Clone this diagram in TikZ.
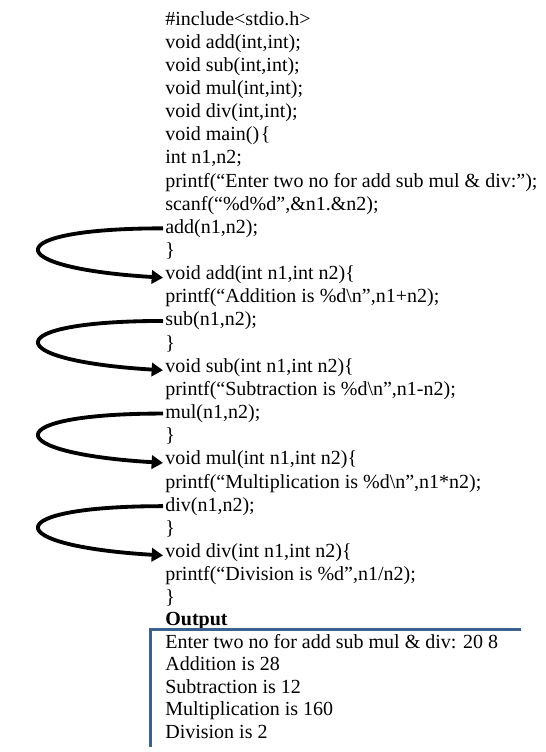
\documentclass[tikz,border=0pt]{standalone}
\usepackage{fontspec}
\setmainfont{Liberation Serif}
\usepackage{tikz}
\usetikzlibrary{calc,arrows.meta}
\definecolor{OutputLine}{RGB}{62,96,145}

\begin{document}
\begin{tikzpicture}[x=0.6pt, y=-0.6pt]
			\useasboundingbox (0,0) rectangle (546,752);
			\tikzstyle{every node}=[anchor=base west, inner sep=0pt, font=\fontsize{12pt}{14pt}\selectfont];
			\tikzstyle{call}=[line width=2.3pt, -{Triangle[length=6.8pt, width=8pt]}];
			\node (l1) at (165, 25.0) {\#include<stdio.h>};
			\node (l2) at (165, 48.15) {void add(int,int);};
			\node (l3) at (165, 71.3) {void sub(int,int);};
			\node (l4) at (165, 94.45) {void mul(int,int);};
			\node (l5) at (165, 117.6) {void div(int,int);};
			\node (l6) at (165, 140.75) {void main()\kern1pt\{};
			\node (l7) at (165, 163.9) {int n1,n2;};
			\node (l8) at (165, 187.05) {printf(“Enter two no for add sub mul \& div:”);};
			\node (l9) at (165, 210.2) {scanf(“\%d\%d”,\&n1.\&n2);};
			\node (l10) at (165, 233.35) {add(n1,n2);};
			\node (l11) at (165, 256.5) {\}};
			\node (l12) at (165, 279.65) {void add(int n1,int n2)\{};
			\node (l13) at (165, 302.8) {printf(“Addition is \%d\textbackslash n”,n1+n2);};
			\node (l14) at (165, 325.95) {sub(n1,n2);};
			\node (l15) at (165, 349.1) {\}};
			\node (l16) at (165, 372.25) {void sub(int n1,int n2)\{};
			\node (l17) at (165, 395.4) {printf(“Subtraction is \%d\textbackslash n”,n1-n2);};
			\node (l18) at (165, 418.55) {mul(n1,n2);};
			\node (l19) at (165, 441.7) {\}};
			\node (l20) at (165, 464.85) {void mul(int n1,int n2)\{};
			\node (l21) at (165, 488.0) {printf(“Multiplication is \%d\textbackslash n”,n1*n2);};
			\node (l22) at (165, 511.15) {div(n1,n2);};
			\node (l23) at (165, 534.3) {\}};
			\node (l24) at (165, 557.45) {void div(int n1,int n2)\{};
			\node (l25) at (165, 580.6) {printf(“Division is \%d”,n1/n2);};
			\node (l26) at (165, 603.75) {\}};
			\node (out) at (165, 625.5) {\textbf{Output}};
			\node (o1) at (165, 648.0) {Enter two no for add sub mul \& div: 20 8};
			\node (o2) at (165, 670.6) {Addition is 28};
			\node (o3) at (165, 693.2) {Subtraction is 12};
			\node (o4) at (165, 715.8) {Multiplication is 160};
			\node (o5) at (165, 738.4) {Division is 2};
			% calls
			\draw [call] ($(l10.base west)+(-2,-5)$) .. controls +(-165,0) and +(-165,-10) .. ($(l12.base west)+(-2,-2)$);
			\draw [call] ($(l14.base west)+(-2,-5)$) .. controls +(-165,0) and +(-165,-10) .. ($(l16.base west)+(-2,-2)$);
			\draw [call] ($(l18.base west)+(-2,-5)$) .. controls +(-165,0) and +(-165,-10) .. ($(l20.base west)+(-2,-2)$);
			\draw [call] ($(l22.base west)+(-2,-5)$) .. controls +(-165,0) and +(-165,-10) .. ($(l24.base west)+(-2,-2)$);
			% output frame
			\draw [OutputLine, line width=1.8pt] (150, 747) -- (150, 629) -- (521, 629);
\end{tikzpicture}
\end{document}
